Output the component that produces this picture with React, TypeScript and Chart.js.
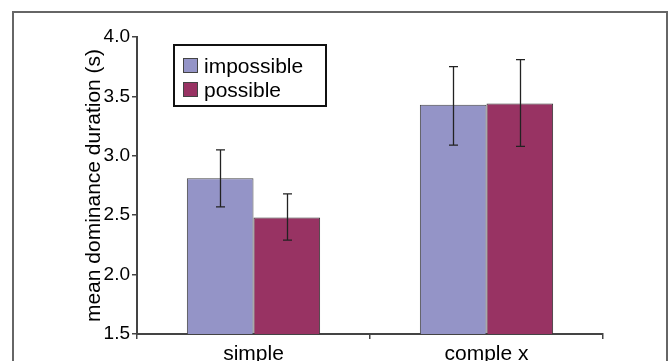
import React, { useEffect, useRef } from "react";
import { Chart, registerables } from "chart.js";

Chart.register(...registerables);

const categories = ["simple", "comple x"];
const seriesNames = ["impossible", "possible"];
const impossibleMeans = [2.81, 3.43];
const possibleMeans = [2.48, 3.44];
const impossibleLow = [2.57, 3.09];
const impossibleHigh = [3.05, 3.75];
const possibleLow = [2.29, 3.08];
const possibleHigh = [2.68, 3.81];
const yMin = 1.5;
const yMax = 4.0;
const yStep = 0.5;
const yTitle = "mean dominance duration (s)";

const FONT = "'Liberation Sans', Arial, Helvetica, sans-serif";
const COLORS = ["#9494C7", "#983363"];

const errorBarPlugin = {
  id: "errorBars",
  afterDatasetsDraw(chart: any) {
    const ctx = chart.ctx;
    const yScale = chart.scales.y;
    const lows = [impossibleLow, possibleLow];
    const highs = [impossibleHigh, possibleHigh];
    ctx.save();
    ctx.strokeStyle = "#222";
    ctx.lineWidth = 1.3;
    chart.data.datasets.forEach((_ds: any, di: number) => {
      const meta = chart.getDatasetMeta(di);
      meta.data.forEach((el: any, i: number) => {
        const x = Math.round(el.x) + 0.5;
        const yl = yScale.getPixelForValue(lows[di][i]);
        const yh = yScale.getPixelForValue(highs[di][i]);
        ctx.beginPath();
        ctx.moveTo(x, yl);
        ctx.lineTo(x, yh);
        ctx.moveTo(x - 4.5, yl);
        ctx.lineTo(x + 4.5, yl);
        ctx.moveTo(x - 4.5, yh);
        ctx.lineTo(x + 4.5, yh);
        ctx.stroke();
      });
    });
    ctx.restore();
  },
};

const legendPlugin = {
  id: "boxLegend",
  afterDatasetsDraw(chart: any) {
    const ctx = chart.ctx;
    const a = chart.chartArea;
    const left = a.left + 37;
    const top = a.top + 8;
    const w = 152;
    const h = 61;
    ctx.save();
    ctx.fillStyle = "#fff";
    ctx.fillRect(left, top, w, h);
    ctx.strokeStyle = "#111";
    ctx.lineWidth = 2;
    ctx.strokeRect(left, top, w, h);
    ctx.font = `21px ${FONT}`;
    ctx.textBaseline = "alphabetic";
    ctx.textAlign = "left";
    seriesNames.forEach((name, i) => {
      const sy = top + 13 + i * 24;
      ctx.fillStyle = COLORS[i];
      ctx.fillRect(left + 9, sy, 15, 15);
      ctx.strokeStyle = "#444";
      ctx.lineWidth = 1;
      ctx.strokeRect(left + 9.5, sy + 0.5, 14, 14);
      ctx.fillStyle = "#000";
      ctx.fillText(name, left + 30, sy + 15);
    });
    ctx.restore();
  },
};

export default function App() {
  const ref = useRef<HTMLCanvasElement | null>(null);
  useEffect(() => {
    if (!ref.current) return;
    const chart = new Chart(ref.current, {
      type: "bar",
      data: {
        labels: categories,
        datasets: [
          {
            label: seriesNames[0],
            data: impossibleMeans,
            backgroundColor: COLORS[0],
            borderColor: "#444",
            borderWidth: 1,
          },
          {
            label: seriesNames[1],
            data: possibleMeans,
            backgroundColor: COLORS[1],
            borderColor: "#333",
            borderWidth: 1,
          },
        ],
      },
      options: {
        animation: false,
        responsive: false,
        layout: { padding: { left: 0, top: 37, right: 68, bottom: 0 } },
        plugins: {
          legend: { display: false },
          tooltip: { enabled: false },
        },
        datasets: {
          bar: { categoryPercentage: 0.572, barPercentage: 1.0 },
        },
        scales: {
          x: {
            offset: true,
            grid: {
              offset: true,
              drawOnChartArea: false,
              tickLength: 5,
              color: "#444",
              lineWidth: 1.5,
            },
            border: { color: "#444", width: 2 },
            ticks: {
              font: { family: FONT, size: 21 },
              color: "#000",
              padding: 3,
              maxRotation: 0,
            },
            afterFit: (s: any) => {
              s.height = 27;
            },
          },
          y: {
            min: yMin,
            max: yMax,
            grid: {
              drawOnChartArea: false,
              tickLength: 5,
              color: "#444",
              lineWidth: 1.5,
            },
            border: { color: "#444", width: 2 },
            ticks: {
              stepSize: yStep,
              font: { family: FONT, size: 19 },
              color: "#000",
              padding: 2,
              callback: (v: any) => Number(v).toFixed(1),
            },
            title: {
              display: true,
              text: yTitle,
              font: { family: FONT, size: 21 },
              color: "#000",
              padding: { top: 82, bottom: 0 },
            },
            afterFit: (s: any) => {
              s.width = 137;
            },
          },
        },
      },
      plugins: [errorBarPlugin, legendPlugin],
    });
    return () => chart.destroy();
  }, []);

  return (
    <div style={{ position: "fixed", left: 0, top: 0, width: 671, height: 361, background: "#fff", overflow: "hidden" }}>
      <div
        style={{
          position: "absolute",
          left: 12,
          top: 11,
          width: 656,
          height: 400,
          border: "2px solid #666",
          boxSizing: "border-box",
        }}
      />
      <canvas ref={ref} width={671} height={361} style={{ position: "absolute", left: 0, top: 0, width: 671, height: 361 }} />
    </div>
  );
}
